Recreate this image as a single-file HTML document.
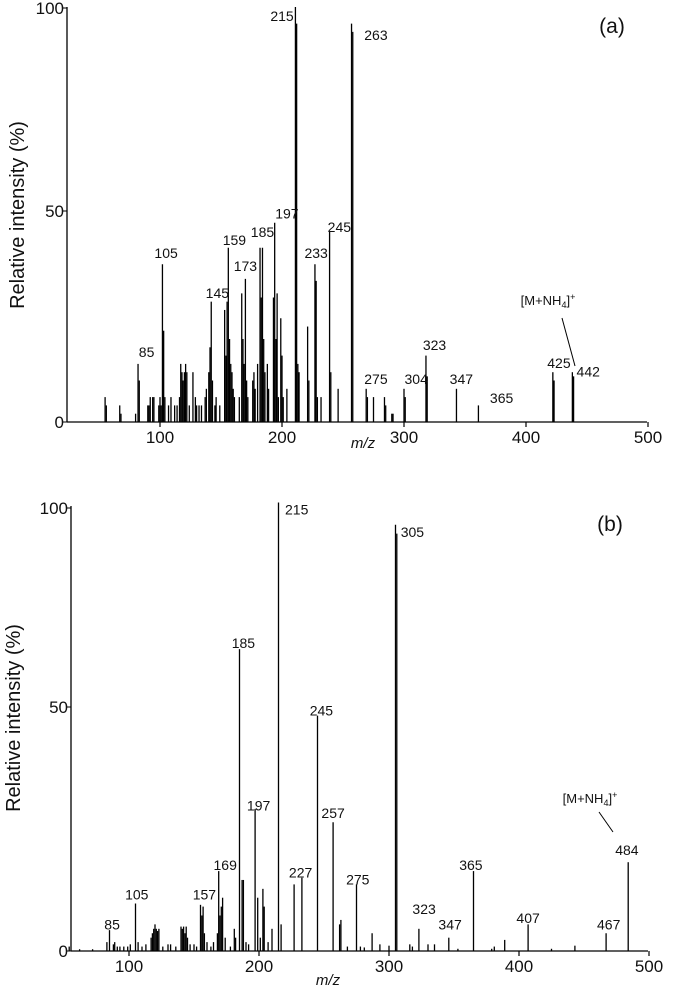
<!DOCTYPE html>
<html><head><meta charset="utf-8"><style>
html,body{margin:0;padding:0;background:#fff}
svg{display:block;font-family:"Liberation Sans",sans-serif}
</style></head><body>
<svg id="chart" width="673" height="1000" viewBox="0 0 673 1000"></svg>
<script>
// Panel (a) data
const aMz = [55,56,67,68,80,82,83,90,91,92,94,95,99,100,101,102,103,104,107,109,112,114,116,117,118,119,120,121,122,124,127,129,130,132,134,137,138,140,141,142,143,145,146,149,153,154,155,156,157,158,159,160,161,165,167,168,169,170,171,172,176,177,178,180,182,183,184,185,186,188,189,193,194,195,196,197,199,200,201,204,211,212,213,214,221,222,227,228,229,232,239,240,246,257,258,269,270,275,284,285,290,291,300,301,318,319,343,361,422,423,438,439];
const aInt = [6,4,4,2,2,14,10,4,4,6,6,6,4,6,4,38,22,6,4,6,4,4,6,14,12,10,12,14,12,4,12,6,4,4,4,6,8,12,18,29,10,4,6,4,27,16,29,42,20,14,12,8,6,6,31,20,14,34.5,10,6,10,12,8,14,42,30,42,20,12,14,8,30,48,20,31,6,25,16,6,8,100,96,14,12,23,10,38,34,6,6,46,12,8,96,94,8,6,6,6,4,2,2,8,6,16,11,8,4,12,10,12,11];
const aLabelText = ["215","263","197","245","185","159","233","105","173","145","85","323","275","304","347","365","425","442"];
const aLabelMz = [200,277,204,247,184,161,228,105,170,147,89,325,277,310,347,380,427,451];
const aLabelInt = [96.6,92,49,45.8,44.6,42.6,39.5,39.5,36.4,29.9,15.7,17.3,9.2,9.2,9.2,4.6,13,11];
const aTicks = [100,200,300,400,500];
// Panel (b) data
const bMz = [54,62,72,83,85,88,89,91,93,96,99,101,105,107,110,113,117,118,119,120,121,122,123,126,130,132,136,140,141,142,143,144,145,147,150,152,155,156,157,158,160,163,165,168,169,170,171,172,174,178,181,182,185,187,188,190,192,197,199,201,203,204,207,210,215,217,227,233,245,257,262,263,268,275,278,281,287,293,300,305,306,316,318,323,330,335,346,353,365,379,381,389,407,425,443,467,484];
const bInt = [1,0.4,0.4,2,4.7,1.5,2,1,1,1,1,1.5,10.7,2,1,1.5,3,4,5,6,5,4.5,5,1,1.5,1.5,1,5.5,5,5.5,4,5.5,3,1.5,1.5,1,10.4,8,10,4,2,1,2,4,18,8,10,12,3,1,5,3,68,16,16,2,1.5,32,12,3,14,10,2,5,101,6,15,16.5,53,29,6,7,1,15,1,0.8,4,1.5,1.2,96,94,1.5,1,5,1.5,1.5,3,0.5,18,0.5,1,2.5,6,0.5,1.2,4,20];
const bLabelText = ["215","305","185","245","197","257","169","227","275","105","157","365","484","323","347","407","467","85"];
const bLabelMz = [229,318,188,248,199.7,257,174,232,276,106,158,363,483,327,347,407,469,87];
const bLabelInt = [98.3,93.2,68.2,53,31.7,29.9,18.2,16.5,15,11.6,11.6,18.2,21.6,8.3,4.8,6.3,4.8,4.8];
const bTicks = [100,200,300,400,500];

const NS="http://www.w3.org/2000/svg";
const svg=document.getElementById('chart');
function mk(tag,attrs,parent){const e=document.createElementNS(NS,tag);for(const k in attrs)e.setAttribute(k,attrs[k]);(parent||svg).appendChild(e);return e;}

function panel(cfg){
  const g=mk('g',{});
  
  
  const X=m=>cfg.x0+(m-100)*cfg.sx;
  const Y=v=>cfg.base-v*cfg.sy;
  const ya=mk('line',{x1:cfg.left,y1:cfg.top,x2:cfg.left,y2:cfg.base,stroke:'#000','stroke-width':1.3},g);
  
  
  const xa=mk('line',{x1:cfg.left,y1:cfg.base,x2:cfg.right,y2:cfg.base,stroke:'#000','stroke-width':1.3},g);
  
  
  cfg.ticks.forEach(t=>{
    const tk=mk('line',{x1:X(t),y1:cfg.base,x2:X(t),y2:cfg.base+5,stroke:'#000','stroke-width':1.2},g);
    
    
    const tl=mk('text',{x:X(t),y:cfg.base+21,'text-anchor':'middle','font-size':17,fill:'#111'},g);
    tl.textContent=t;
    
    
  });
  cfg.yt.forEach(([lab,py])=>{
    const t=mk('text',{x:cfg.left-3,y:py+6,'text-anchor':'end','font-size':17,fill:'#111'},g);
    t.textContent=lab;
    
    
    const tk=mk('line',{x1:cfg.left-4,y1:py,x2:cfg.left,y2:py,stroke:'#000','stroke-width':1},g);
    
    
  });
  cfg.mz.forEach((m,i)=>{
    const p=mk('line',{x1:X(m),y1:cfg.base,x2:X(m),y2:Y(cfg.int[i]),stroke:'#000','stroke-width':1.3},g);
    
    
  });
  cfg.lt.forEach((t,i)=>{
    const e=mk('text',{x:X(cfg.lm[i]),y:Y(cfg.li[i]),'text-anchor':'middle','font-size':14,fill:'#111'},g);
    e.textContent=t;
    
    
  });
  const yt=mk('text',{x:0,y:0,'font-size':20,'text-anchor':'middle',fill:'#111',transform:`translate(${cfg.ytx},${cfg.yty}) rotate(-90)`},g);
  yt.textContent='Relative intensity (%)';
  
  
  const xt=mk('text',{x:cfg.xtx,y:cfg.xty,'font-size':15,'font-style':'italic','text-anchor':'middle',fill:'#111'},g);
  xt.textContent='m/z';
  
  
  const pl=mk('text',{x:cfg.plx,y:cfg.ply,'font-size':21,'text-anchor':'middle',fill:'#111'},g);
  pl.textContent=cfg.panelLabel;
  
  
  const an=mk('text',{x:cfg.anx,y:cfg.any,'font-size':13,'text-anchor':'middle',fill:'#111'},g);
  an.innerHTML='[M+NH<tspan font-size="9" dy="3">4</tspan><tspan dy="-3">]</tspan><tspan font-size="9" dy="-5">+</tspan>';
  
  
  const al=mk('line',{x1:cfg.al[0],y1:cfg.al[1],x2:cfg.al[2],y2:cfg.al[3],stroke:'#000','stroke-width':1},g);
  
  
}

panel({name:'panel-a',x0:160,sx:1.22,base:422,sy:4.15,left:67,right:647,top:7,ticks:aTicks,
  yt:[['100',8],['50',211],['0',422]],mz:aMz,int:aInt,lt:aLabelText,lm:aLabelMz,li:aLabelInt,
  ytx:24,yty:215,xtx:363,xty:448,plx:612,ply:33,panelLabel:'(a)',anx:548,any:305,al:[562,318,575,366]});
panel({name:'panel-b',x0:129,sx:1.30,base:951,sy:4.44,left:71,right:648,top:506,ticks:bTicks,
  yt:[['100',508],['50',707],['0',951]],mz:bMz,int:bInt,lt:bLabelText,lm:bLabelMz,li:bLabelInt,
  ytx:20,yty:718,xtx:328,xty:985,plx:610,ply:531,panelLabel:'(b)',anx:590,any:803,al:[599,812,613,832]});
</script>
</body></html>
